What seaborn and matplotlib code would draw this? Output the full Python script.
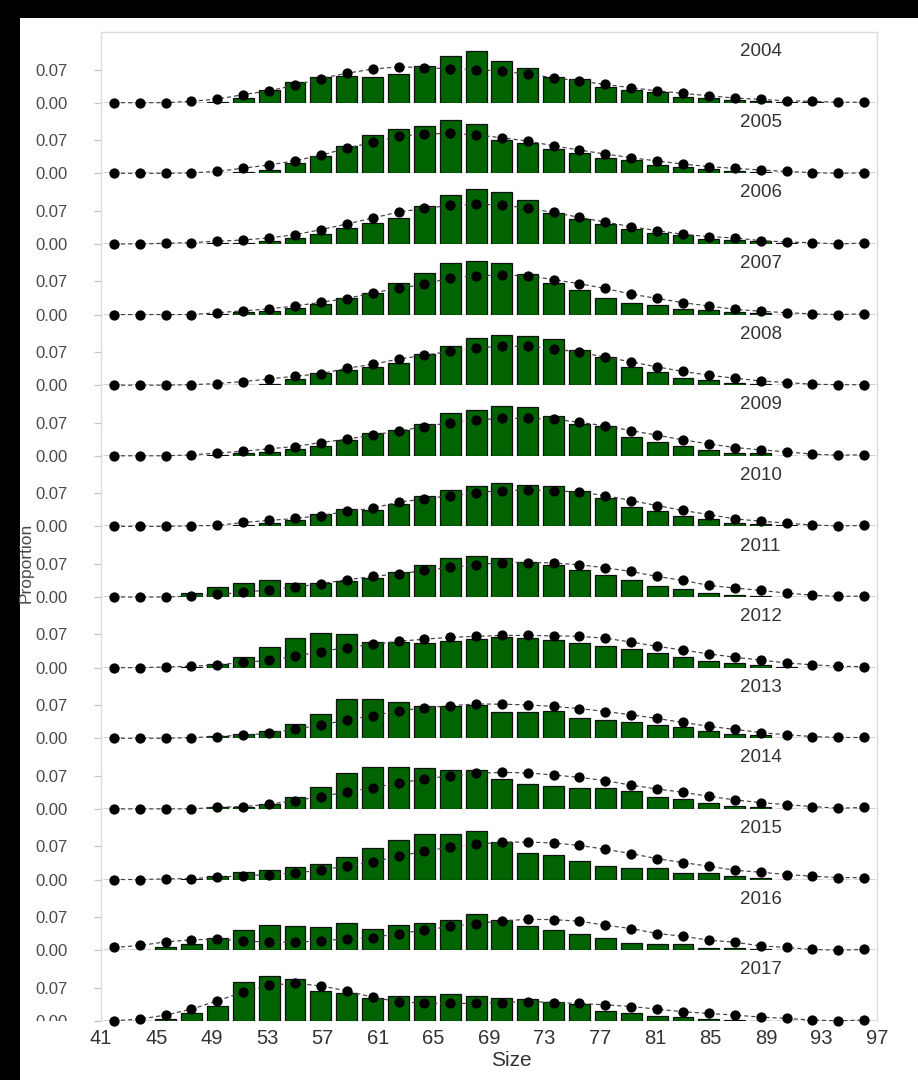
import matplotlib
matplotlib.use("Agg")
import matplotlib.pyplot as plt
from matplotlib.patches import Rectangle
from matplotlib.transforms import Bbox, TransformedBbox
import numpy as np
import seaborn as sns

sns.set_theme(style="white")
plt.rcParams["font.family"] = ["Liberation Sans", "DejaVu Sans"]
NARROW = ["Liberation Sans Narrow", "Liberation Sans", "DejaVu Sans"]

# Size-class mid points (30 equal classes between 41 and 97)
size_mid = [41.93, 43.80, 45.67, 47.53, 49.40, 51.27, 53.13, 55.00, 56.87, 58.73,
            60.60, 62.47, 64.33, 66.20, 68.07, 69.93, 71.80, 73.67, 75.53, 77.40,
            79.27, 81.13, 83.00, 84.87, 86.73, 88.60, 90.47, 92.33, 94.20, 96.07]
size_ticks = [41, 45, 49, 53, 57, 61, 65, 69, 73, 77, 81, 85, 89, 93, 97]
years = [2004, 2005, 2006, 2007, 2008, 2009, 2010, 2011, 2012, 2013, 2014, 2015, 2016, 2017]

# Observed proportions at size (bars)
obs_2004 = [0, 0, 0, 0, 0.0014, 0.0098, 0.0275, 0.0427, 0.0546, 0.0553, 0.054, 0.061, 0.078, 0.098, 0.108,
            0.0875, 0.0735, 0.0546, 0.049, 0.033, 0.026, 0.0217, 0.012, 0.0105, 0.0056, 0.0035, 0.002, 0.001, 0, 0]
obs_2005 = [0, 0, 0, 0, 0.001, 0.002, 0.008, 0.021, 0.037, 0.058, 0.080, 0.093, 0.099, 0.112, 0.104,
            0.0707, 0.063, 0.0504, 0.0434, 0.0315, 0.028, 0.0175, 0.014, 0.0084, 0.0056, 0.0028, 0.0014, 0, 0, 0]
obs_2006 = [0, 0, 0, 0, 0.0014, 0.0028, 0.007, 0.0126, 0.021, 0.0336, 0.0434, 0.0546, 0.0798, 0.1022, 0.1155,
            0.109, 0.0924, 0.0644, 0.0532, 0.0413, 0.0322, 0.0224, 0.0182, 0.0112, 0.0091, 0.0056, 0.0014, 0, 0, 0]
obs_2007 = [0, 0, 0, 0, 0.0014, 0.0056, 0.0084, 0.0133, 0.0224, 0.035, 0.0455, 0.067, 0.0875, 0.109, 0.113,
            0.108, 0.085, 0.067, 0.0525, 0.034, 0.025, 0.021, 0.0126, 0.009, 0.0063, 0.0028, 0, 0, 0, 0]
obs_2008 = [0, 0, 0, 0, 0, 0.0014, 0.0035, 0.014, 0.026, 0.0315, 0.0385, 0.0476, 0.066, 0.0826, 0.100,
            0.105, 0.103, 0.097, 0.0735, 0.0595, 0.0385, 0.028, 0.016, 0.0105, 0.0056, 0.0028, 0, 0, 0, 0]
obs_2009 = [0, 0, 0, 0, 0.0014, 0.0056, 0.0084, 0.014, 0.021, 0.0336, 0.0476, 0.054, 0.068, 0.091, 0.096,
            0.1057, 0.1036, 0.084, 0.067, 0.063, 0.039, 0.0294, 0.0217, 0.0126, 0.0056, 0.005, 0, 0, 0, 0]
obs_2010 = [0, 0, 0, 0.0007, 0.0014, 0.004, 0.007, 0.0126, 0.0266, 0.0364, 0.035, 0.0476, 0.065, 0.077, 0.086,
            0.091, 0.0875, 0.0847, 0.0756, 0.0595, 0.0406, 0.032, 0.021, 0.0154, 0.007, 0.005, 0.002, 0, 0, 0]
obs_2011 = [0, 0, 0, 0.0084, 0.021, 0.029, 0.0364, 0.0287, 0.029, 0.0336, 0.0406, 0.053, 0.068, 0.082, 0.0868,
            0.0826, 0.074, 0.0686, 0.0574, 0.047, 0.0357, 0.023, 0.0175, 0.009, 0.005, 0.002, 0, 0, 0, 0]
obs_2012 = [0, 0, 0, 0.0014, 0.008, 0.023, 0.043, 0.062, 0.073, 0.070, 0.055, 0.054, 0.053, 0.056, 0.061,
            0.065, 0.063, 0.058, 0.052, 0.045, 0.039, 0.031, 0.022, 0.015, 0.009, 0.005, 0.002, 0, 0, 0]
obs_2013 = [0, 0, 0, 0.0014, 0.0045, 0.0087, 0.0145, 0.0305, 0.0515, 0.0835, 0.0826, 0.076, 0.069, 0.068, 0.0707,
            0.0545, 0.056, 0.0565, 0.0425, 0.0385, 0.0338, 0.027, 0.0234, 0.015, 0.010, 0.007, 0, 0, 0, 0]
obs_2014 = [0, 0, 0, 0, 0.003, 0.004, 0.0105, 0.026, 0.046, 0.075, 0.089, 0.0875, 0.0868, 0.082, 0.082,
            0.063, 0.0525, 0.049, 0.0448, 0.0434, 0.0385, 0.026, 0.020, 0.012, 0.0063, 0.0035, 0, 0, 0, 0]
obs_2015 = [0, 0, 0, 0.002, 0.0084, 0.0168, 0.020, 0.0266, 0.033, 0.0476, 0.0665, 0.0826, 0.095, 0.0966, 0.103,
            0.080, 0.0567, 0.0525, 0.038, 0.028, 0.025, 0.025, 0.0147, 0.014, 0.0084, 0.004, 0, 0, 0, 0]
obs_2016 = [0, 0, 0.0056, 0.014, 0.0266, 0.042, 0.0525, 0.0504, 0.049, 0.057, 0.0455, 0.0525, 0.057, 0.064, 0.0756,
            0.063, 0.051, 0.0434, 0.033, 0.026, 0.016, 0.014, 0.014, 0.0035, 0.0035, 0.0014, 0, 0, 0, 0]
obs_2017 = [0, 0, 0.0045, 0.016, 0.032, 0.0825, 0.0945, 0.088, 0.063, 0.059, 0.047, 0.052, 0.0525, 0.056, 0.052,
            0.0473, 0.0455, 0.040, 0.0343, 0.0196, 0.0158, 0.0105, 0.0077, 0.0035, 0.0014, 0, 0, 0, 0, 0]

# Model-predicted proportions at size (points)
pred_2004 = [0, 0, 0, 0.003, 0.0077, 0.017, 0.025, 0.037, 0.051, 0.062, 0.071, 0.0756, 0.074, 0.0714, 0.070,
             0.0665, 0.060, 0.053, 0.0455, 0.0385, 0.0315, 0.025, 0.0196, 0.0147, 0.0098, 0.007, 0.004, 0.003, 0.001, 0.001]
pred_2005 = [0, 0, 0, 0.001, 0.004, 0.011, 0.0175, 0.0266, 0.038, 0.053, 0.065, 0.078, 0.083, 0.084, 0.081,
             0.075, 0.068, 0.058, 0.049, 0.0406, 0.033, 0.026, 0.0196, 0.014, 0.0105, 0.007, 0.004, 0.0014, 0, 0.001]
pred_2006 = [0, 0, 0.0014, 0.0028, 0.0056, 0.0084, 0.0126, 0.0196, 0.0301, 0.042, 0.0546, 0.0672, 0.0749, 0.0812, 0.0833,
             0.0826, 0.0749, 0.0665, 0.056, 0.0462, 0.0364, 0.028, 0.0203, 0.0154, 0.0126, 0.007, 0.0042, 0.0028, 0, 0.002]
pred_2007 = [0, 0, 0, 0, 0.004, 0.0077, 0.012, 0.018, 0.026, 0.0336, 0.046, 0.055, 0.064, 0.077, 0.082,
             0.083, 0.082, 0.0735, 0.065, 0.055, 0.043, 0.034, 0.025, 0.018, 0.011, 0.007, 0.004, 0.0014, 0, 0.0014]
pred_2008 = [0, 0, 0, 0.001, 0.0035, 0.0077, 0.013, 0.019, 0.024, 0.0357, 0.044, 0.055, 0.063, 0.0714, 0.079,
             0.082, 0.082, 0.077, 0.069, 0.0595, 0.049, 0.0385, 0.029, 0.021, 0.0147, 0.009, 0.0056, 0.002, 0.001, 0.001]
pred_2009 = [0, 0, 0, 0.002, 0.0056, 0.0098, 0.0147, 0.0196, 0.028, 0.035, 0.044, 0.052, 0.0616, 0.070, 0.0756,
             0.079, 0.079, 0.077, 0.0707, 0.063, 0.053, 0.0434, 0.0336, 0.025, 0.0175, 0.0126, 0.0084, 0.0035, 0.0014, 0.002]
pred_2010 = [0, 0, 0, 0.0014, 0.002, 0.0084, 0.0126, 0.0168, 0.023, 0.0315, 0.0385, 0.051, 0.058, 0.065, 0.0714,
             0.0756, 0.077, 0.0756, 0.072, 0.065, 0.0546, 0.044, 0.0336, 0.025, 0.016, 0.011, 0.007, 0.003, 0.001, 0.002]
pred_2011 = [0, 0, 0, 0.002, 0.0056, 0.0098, 0.0154, 0.021, 0.028, 0.0364, 0.0434, 0.049, 0.056, 0.0623, 0.068,
             0.0728, 0.0728, 0.072, 0.068, 0.0616, 0.054, 0.0434, 0.035, 0.0245, 0.019, 0.014, 0.0084, 0.004, 0.0014, 0.002]
pred_2012 = [0, 0, 0.0014, 0.003, 0.006, 0.011, 0.0155, 0.024, 0.034, 0.0425, 0.049, 0.0555, 0.060, 0.064, 0.066,
             0.068, 0.068, 0.067, 0.066, 0.062, 0.054, 0.045, 0.037, 0.029, 0.022, 0.016, 0.010, 0.006, 0.003, 0.002]
pred_2013 = [0, 0, 0, 0.0014, 0.0037, 0.0065, 0.0108, 0.0195, 0.0277, 0.0385, 0.048, 0.0575, 0.0645, 0.0685, 0.0724,
             0.0718, 0.0704, 0.0672, 0.0627, 0.0564, 0.0495, 0.0418, 0.0333, 0.0253, 0.0188, 0.0121, 0.0074, 0.0037, 0.0017, 0.0017]
pred_2014 = [0, 0, 0, 0, 0.0035, 0.005, 0.0098, 0.0175, 0.026, 0.0357, 0.0448, 0.0546, 0.063, 0.070, 0.075,
             0.077, 0.076, 0.0714, 0.0665, 0.0595, 0.050, 0.042, 0.035, 0.0266, 0.019, 0.0133, 0.009, 0.005, 0.0014, 0.003]
pred_2015 = [0, 0, 0.0014, 0.002, 0.005, 0.0077, 0.0105, 0.014, 0.0196, 0.0287, 0.037, 0.049, 0.060, 0.068, 0.074,
             0.079, 0.079, 0.077, 0.072, 0.0637, 0.0546, 0.044, 0.0357, 0.028, 0.0196, 0.0154, 0.0105, 0.007, 0.004, 0.004]
pred_2016 = [0.0056, 0.0098, 0.0175, 0.0217, 0.0231, 0.0196, 0.0168, 0.0168, 0.0196, 0.0238, 0.0266, 0.035, 0.042, 0.050, 0.056,
             0.0616, 0.065, 0.0644, 0.061, 0.0525, 0.0455, 0.035, 0.0294, 0.021, 0.0168, 0.009, 0.0056, 0.0014, 0, 0.0014]
pred_2017 = [0, 0.0035, 0.012, 0.0245, 0.042, 0.061, 0.075, 0.079, 0.0735, 0.063, 0.0497, 0.040, 0.037, 0.0364, 0.0364,
             0.0385, 0.0406, 0.0385, 0.0364, 0.0336, 0.030, 0.0245, 0.019, 0.0154, 0.012, 0.0077, 0.005, 0.0014, 0, 0.0014]

observed = [obs_2004, obs_2005, obs_2006, obs_2007, obs_2008, obs_2009, obs_2010,
            obs_2011, obs_2012, obs_2013, obs_2014, obs_2015, obs_2016, obs_2017]
predicted = [pred_2004, pred_2005, pred_2006, pred_2007, pred_2008, pred_2009, pred_2010,
             pred_2011, pred_2012, pred_2013, pred_2014, pred_2015, pred_2016, pred_2017]

# ---- figure -------------------------------------------------------------
W, H = 918, 1080
fig = plt.figure(figsize=(W / 100, H / 100), dpi=100)
fig.patch.set_facecolor("black")
fig.add_artist(Rectangle((20 / W, 0), 1 - 20 / W, 1 - 18 / H, transform=fig.transFigure,
                         facecolor="white", edgecolor="none", zorder=-10))

x0_px, x1_px = 101, 877
first_base_px, strip_px = 102.7, 70.62
y_top = 0.1489
frame_col = "#dcdcdc"
base_col = "#b4b4b4"

axes = []
for i, (yr, obs, pred) in enumerate(zip(years, observed, predicted)):
    base_px = first_base_px + strip_px * i
    ax = fig.add_axes([x0_px / W, 1 - base_px / H, (x1_px - x0_px) / W, strip_px / H])
    ax.set_facecolor("none")
    axes.append(ax)

    ax.axhline(0, color=base_col, lw=1.0, zorder=0.5)
    sns.barplot(x=size_mid, y=obs, native_scale=True, width=0.81, color="#006400",
                saturation=1, edgecolor="#101010", linewidth=0.9, errorbar=None, ax=ax, zorder=2)
    sns.lineplot(x=size_mid, y=pred, ax=ax, color="#404040", linestyle=(0, (3.5, 2.5)), linewidth=0.85,
                 marker="o", markersize=7.4, markerfacecolor="black", markeredgecolor="black",
                 markeredgewidth=0, errorbar=None, zorder=3)
    for ln in ax.lines[1:]:
        ln.set_clip_on(False)

    ax.set_xlim(size_ticks[0], size_ticks[-1])
    ax.set_ylim(0, y_top)
    ax.set_xlabel("")
    ax.set_ylabel("")

    ax.set_yticks([0, 0.07])
    ax.set_yticklabels(["0.00", "0.07"], family=NARROW, fontsize=12, color="#4a4a4a")
    ax.tick_params(axis="y", left=True, length=5, width=0.9, color="#c4c4c4", pad=19)

    for side in ("top", "bottom", "left", "right"):
        ax.spines[side].set_visible(False)
    for side in ("left", "right"):
        ax.spines[side].set_visible(True)
        ax.spines[side].set_color(frame_col)
        ax.spines[side].set_linewidth(1.0)
    if i == 0:
        ax.spines["top"].set_visible(True)
        ax.spines["top"].set_color(frame_col)
        ax.spines["top"].set_linewidth(1.0)

    ax.text(88.6, 0.1075, str(yr), ha="center", va="center", fontsize=13.5, color="#333333")

    if i < len(years) - 1:
        ax.set_xticks([])
    else:
        ax.set_xticks(size_ticks)
        ax.set_xticklabels([str(t) for t in size_ticks], family=NARROW, fontsize=14.5, color="#333333")
        ax.tick_params(axis="x", bottom=False, length=0, pad=6)

# the lowest 0.00 label is cut at the bottom of the panel block
last = axes[-1]
clip = TransformedBbox(Bbox([[0, last.get_position().y0], [1, 1]]), fig.transFigure)
for lab in last.get_yticklabels():
    if lab.get_text() == "0.00":
        lab.set_clip_box(clip)
        lab.set_clip_on(True)

fig.text(511 / W, 1 - 1061 / H, "Size", ha="center", va="center", fontsize=15, color="#333333")
fig.text(26 / W, 1 - 563 / H, "Proportion", ha="center", va="center", rotation=90,
         fontsize=12.5, color="#4a4a4a", family=NARROW)

fig.savefig("out.png", dpi=100, facecolor=fig.get_facecolor())
